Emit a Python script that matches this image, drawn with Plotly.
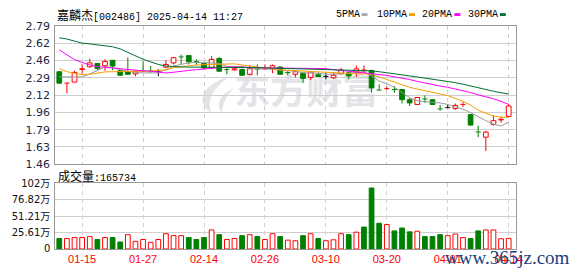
import plotly.graph_objects as go

W, H = 578, 276

# ---------------- data ----------------
dates = [
    "2025-01-10", "2025-01-13", "2025-01-14", "2025-01-15", "2025-01-16", "2025-01-17",
    "2025-01-20", "2025-01-21", "2025-01-22", "2025-01-23", "2025-01-24", "2025-01-27",
    "2025-02-05", "2025-02-06", "2025-02-07", "2025-02-10", "2025-02-11", "2025-02-12",
    "2025-02-13", "2025-02-14", "2025-02-17", "2025-02-18", "2025-02-19", "2025-02-20",
    "2025-02-21", "2025-02-24", "2025-02-25", "2025-02-26", "2025-02-27", "2025-02-28",
    "2025-03-03", "2025-03-04", "2025-03-05", "2025-03-06", "2025-03-07", "2025-03-10",
    "2025-03-11", "2025-03-12", "2025-03-13", "2025-03-14", "2025-03-17", "2025-03-18",
    "2025-03-19", "2025-03-20", "2025-03-21", "2025-03-24", "2025-03-25", "2025-03-26",
    "2025-03-27", "2025-03-28", "2025-03-31", "2025-04-01", "2025-04-02", "2025-04-03",
    "2025-04-07", "2025-04-08", "2025-04-09", "2025-04-10", "2025-04-11", "2025-04-14",
]
opens = [2.350, 2.238, 2.250, 2.372, 2.398, 2.430, 2.408, 2.460, 2.359, 2.347,
         2.329, 2.358, 2.358, 2.355, 2.395, 2.435, 2.495, 2.505, 2.446, 2.430,
         2.388, 2.478, 2.372, 2.368, 2.371, 2.325, 2.378, 2.376, 2.378, 2.395,
         2.345, 2.325, 2.335, 2.295, 2.320, 2.305, 2.292, 2.330, 2.340, 2.347,
         2.360, 2.362, 2.175, 2.185, 2.180, 2.178, 2.081, 2.035, 2.090, 2.081,
         1.994, 2.004, 1.995, 2.032, 1.937, 1.772, 1.720, 1.843, 1.886, 1.920]
highs = [2.355, 2.246, 2.360, 2.420, 2.475, 2.432, 2.470, 2.462, 2.365, 2.487,
         2.360, 2.450, 2.405, 2.374, 2.460, 2.490, 2.515, 2.506, 2.469, 2.435,
         2.500, 2.490, 2.393, 2.400, 2.380, 2.412, 2.420, 2.420, 2.420, 2.400,
         2.356, 2.360, 2.340, 2.356, 2.345, 2.340, 2.340, 2.386, 2.345, 2.410,
         2.410, 2.370, 2.228, 2.210, 2.210, 2.185, 2.096, 2.105, 2.123, 2.085,
         2.030, 2.035, 2.044, 2.056, 1.940, 1.830, 1.781, 1.928, 1.920, 2.040]
lows = [2.235, 2.142, 2.250, 2.330, 2.390, 2.365, 2.360, 2.365, 2.310, 2.322,
        2.307, 2.345, 2.340, 2.307, 2.384, 2.420, 2.420, 2.420, 2.414, 2.375,
        2.380, 2.350, 2.325, 2.360, 2.310, 2.320, 2.315, 2.370, 2.335, 2.320,
        2.316, 2.295, 2.243, 2.270, 2.300, 2.275, 2.280, 2.325, 2.276, 2.300,
        2.340, 2.148, 2.170, 2.173, 2.148, 2.044, 2.020, 2.030, 2.050, 2.030,
        1.974, 2.004, 1.983, 2.010, 1.834, 1.720, 1.586, 1.830, 1.860, 1.920]
closes = [2.240, 2.243, 2.343, 2.378, 2.435, 2.380, 2.448, 2.405, 2.316, 2.325,
          2.355, 2.355, 2.355, 2.355, 2.420, 2.485, 2.490, 2.445, 2.440, 2.385,
          2.469, 2.355, 2.368, 2.378, 2.316, 2.378, 2.374, 2.380, 2.408, 2.325,
          2.340, 2.350, 2.286, 2.347, 2.305, 2.305, 2.316, 2.365, 2.310, 2.377,
          2.366, 2.194, 2.172, 2.190, 2.176, 2.081, 2.050, 2.102, 2.086, 2.035,
          1.990, 2.004, 2.026, 2.038, 1.836, 1.768, 1.769, 1.879, 1.892, 2.020]
volumes = [163000, 163000, 178000, 178000, 193000, 148000, 178000, 178000, 109000, 223000,
           119000, 148000, 104000, 148000, 238000, 208000, 208000, 178000, 148000, 178000,
           297000, 223000, 148000, 163000, 208000, 223000, 193000, 148000, 238000, 193000,
           138000, 129000, 208000, 238000, 163000, 129000, 143000, 238000, 223000, 262000,
           341000, 950000, 401000, 381000, 282000, 326000, 267000, 277000, 193000, 193000,
           223000, 208000, 233000, 178000, 163000, 282000, 297000, 297000, 159000, 165734]
ma5 = [2.300, 2.300, 2.300, 2.300, 2.330, 2.360, 2.400, 2.390, 2.370, 2.355,
       2.343, 2.338, 2.338, 2.340, 2.370, 2.405, 2.420, 2.435, 2.440, 2.440,
       2.435, 2.430, 2.400, 2.400, 2.400, 2.385, 2.377, 2.377, 2.375, 2.365,
       2.362, 2.355, 2.340, 2.340, 2.335, 2.325, 2.325, 2.330, 2.335, 2.345,
       2.350, 2.310, 2.260, 2.235, 2.200, 2.150, 2.100, 2.070, 2.060, 2.055,
       2.050, 2.035, 2.010, 1.990, 1.955, 1.915, 1.880, 1.845, 1.827, 1.866]
ma10 = [2.380, 2.350, 2.335, 2.322, 2.325, 2.340, 2.348, 2.350, 2.350, 2.350,
        2.352, 2.355, 2.358, 2.362, 2.368, 2.389, 2.400, 2.410, 2.415, 2.418,
        2.420, 2.425, 2.426, 2.426, 2.415, 2.405, 2.395, 2.386, 2.378, 2.368,
        2.364, 2.360, 2.356, 2.350, 2.347, 2.343, 2.338, 2.334, 2.330, 2.330,
        2.330, 2.325, 2.300, 2.275, 2.250, 2.225, 2.200, 2.183, 2.165, 2.150,
        2.136, 2.120, 2.095, 2.065, 2.030, 1.980, 1.950, 1.925, 1.912, 1.910]
ma20 = [2.560, 2.515, 2.466, 2.440, 2.415, 2.400, 2.392, 2.385, 2.377, 2.370,
        2.360, 2.358, 2.356, 2.345, 2.338, 2.345, 2.350, 2.362, 2.370, 2.378,
        2.384, 2.390, 2.395, 2.396, 2.396, 2.394, 2.390, 2.387, 2.386, 2.386,
        2.386, 2.386, 2.385, 2.385, 2.384, 2.380, 2.370, 2.362, 2.358, 2.352,
        2.345, 2.335, 2.325, 2.315, 2.300, 2.290, 2.275, 2.257, 2.240, 2.228,
        2.212, 2.200, 2.185, 2.165, 2.150, 2.127, 2.110, 2.090, 2.065, 2.035]
ma30 = [2.677, 2.665, 2.645, 2.625, 2.618, 2.609, 2.600, 2.590, 2.570, 2.535,
        2.505, 2.470, 2.445, 2.420, 2.405, 2.397, 2.396, 2.395, 2.395, 2.395,
        2.395, 2.395, 2.395, 2.395, 2.395, 2.393, 2.390, 2.388, 2.385, 2.383,
        2.382, 2.380, 2.378, 2.375, 2.372, 2.368, 2.366, 2.364, 2.362, 2.360,
        2.360, 2.358, 2.350, 2.342, 2.332, 2.320, 2.310, 2.300, 2.290, 2.278,
        2.267, 2.255, 2.245, 2.230, 2.212, 2.197, 2.180, 2.162, 2.148, 2.135]

ma_names = ["5PMA", "10PMA", "20PMA", "30PMA"]
price_min, price_max = 1.46, 2.79
price_tick_vals = [1.46, 1.62625, 1.7925, 1.95875, 2.125, 2.29125, 2.4575, 2.62375, 2.79]
price_tick_text = ["1.46", "1.63", "1.79", "1.96", "2.12", "2.29", "2.46", "2.62", "2.79"]
vol_max = 1024300
vol_tick_vals = [0, 256075, 512150, 768225, 1024300]
vol_tick_text = ["0", "25.61万", "51.21万", "76.82万", "102万"]
date_tick_idx = [3, 11, 19, 27, 35, 43, 51, 59]
stock_name = "嘉麟杰"
stock_code = "[002486]"
timestamp = "2025-04-14 11:27"
vol_label = "成交量"

# ---------------- styles ----------------
RED = "#ff0000"
GREEN = "#008000"
BLACK = "#000000"
MA_COLORS = ["#999999", "#f5a000", "#ff00ff", "#006f35"]
LEGEND_COLORS = ["#aaaaaa", "#f5a000", "#ff00ff", "#007038"]
GRID = "#cfcfcf"
FRAME = "#999999"
MONO = "Liberation Mono"
CJK = "Noto Sans CJK SC"


def px(xp):
    return xp / W


def py(yp):
    return 1 - yp / H


n = len(dates)
xs = list(range(n))

fig = go.Figure()

# wicks and doji ticks
seg = {RED: ([], []), GREEN: ([], []), BLACK: ([], [])}
for i in xs:
    o, h, l, c = opens[i], highs[i], lows[i], closes[i]
    col = RED if c > o else (GREEN if c < o else BLACK)
    sx, sy = seg[col]
    top, bot = max(o, c), min(o, c)
    sx += [i, i, None, i, i, None]
    sy += [l, bot, None, top, h, None]
    if abs(c - o) < 0.006:
        m = (o + c) / 2
        sx += [i - 0.33, i + 0.33, None]
        sy += [m, m, None]
for col, (sx, sy) in seg.items():
    fig.add_trace(go.Scatter(x=sx, y=sy, mode="lines", line=dict(color=col, width=1),
                             hoverinfo="skip", xaxis="x", yaxis="y"))

# bodies
up_i = [i for i in xs if closes[i] - opens[i] >= 0.006]
dn_i = [i for i in xs if opens[i] - closes[i] >= 0.006]
fig.add_trace(go.Bar(x=up_i, base=[opens[i] for i in up_i],
                     y=[closes[i] - opens[i] for i in up_i], width=0.62,
                     marker=dict(color="white", line=dict(color=RED, width=1)),
                     xaxis="x", yaxis="y"))
fig.add_trace(go.Bar(x=dn_i, base=[closes[i] for i in dn_i],
                     y=[opens[i] - closes[i] for i in dn_i], width=0.62,
                     marker=dict(color=GREEN, line=dict(color=GREEN, width=1)),
                     xaxis="x", yaxis="y"))

# moving averages
for vals, col in zip([ma5, ma10, ma20, ma30], MA_COLORS):
    fig.add_trace(go.Scatter(x=xs, y=vals, mode="lines", line=dict(color=col, width=1),
                             hoverinfo="skip", xaxis="x", yaxis="y"))

# volume
vol_up = [(closes[0] >= opens[0]) if i == 0 else (closes[i] >= closes[i - 1]) for i in xs]
vu = [i for i in xs if vol_up[i]]
vd = [i for i in xs if not vol_up[i]]
fig.add_trace(go.Bar(x=vu, y=[volumes[i] for i in vu], width=0.62,
                     marker=dict(color="white", line=dict(color=RED, width=1)),
                     xaxis="x2", yaxis="y2"))
fig.add_trace(go.Bar(x=vd, y=[volumes[i] for i in vd], width=0.62,
                     marker=dict(color=GREEN, line=dict(color=GREEN, width=1)),
                     xaxis="x2", yaxis="y2"))

xdom = [px(56), px(522)]
xr = [-0.52, n - 1 + 0.92]
common_x = dict(domain=xdom, range=xr, tickmode="array", tickvals=date_tick_idx,
                showgrid=True, gridcolor=GRID, griddash="4px,4px", gridwidth=1,
                showline=True, mirror=True, linecolor=FRAME, linewidth=1,
                zeroline=False, ticks="", fixedrange=True)
fig.update_layout(
    width=W, height=H, margin=dict(l=0, r=0, t=0, b=0),
    paper_bgcolor="white", plot_bgcolor="white", showlegend=False,
    barmode="overlay",
    xaxis=dict(anchor="y", showticklabels=False, **common_x),
    xaxis2=dict(anchor="y2", matches="x", showticklabels=True,
                ticktext=[dates[i][5:] for i in date_tick_idx],
                tickfont=dict(family="Liberation Sans", size=11, color=RED), **common_x),
    yaxis=dict(domain=[py(166), py(21)], range=[price_min, price_max], tickmode="array",
               tickvals=price_tick_vals, ticktext=price_tick_text, showgrid=True,
               gridcolor=GRID, showline=True, mirror=True, linecolor=FRAME,
               zeroline=False, ticks="", ticklabelstandoff=2,
               tickfont=dict(family="DejaVu Sans", size=11, color="#1c2845")),
    yaxis2=dict(domain=[py(255), py(186)], range=[0, vol_max], tickmode="array",
                tickvals=vol_tick_vals, ticktext=vol_tick_text, showgrid=True,
                gridcolor=GRID, showline=True, mirror=True, linecolor=FRAME,
                zeroline=False, ticks="", ticklabelstandoff=2,
                tickfont=dict(family="DejaVu Sans, Noto Sans CJK SC", size=10, color="#111111")),
)

ann = []
# title
ann.append(dict(xref="paper", yref="paper", x=px(56), y=py(9), xanchor="left", yanchor="middle",
                showarrow=False,
                text=f'<span style="font-family:{CJK};font-size:12px">{stock_name}</span>{stock_code} {timestamp}',
                font=dict(family=MONO, size=10, color="#000000")))
# volume label
ann.append(dict(xref="paper", yref="paper", x=px(57), y=py(178), xanchor="left", yanchor="middle",
                showarrow=False,
                text=f'<span style="font-family:{CJK};font-size:12px">{vol_label}</span>:{volumes[-1]}',
                font=dict(family=MONO, size=10, color="#000000")))
# legend
leg_text_x = [338, 380, 425, 472]
leg_box_x = [366, 414, 460, 506]
shapes = []
for name, tx, bx, col in zip(ma_names, leg_text_x, leg_box_x, LEGEND_COLORS):
    ann.append(dict(xref="paper", yref="paper", x=px(tx), y=py(9), xanchor="left",
                    yanchor="middle", showarrow=False, text=name,
                    font=dict(family=MONO, size=10, color="#000000")))
    shapes.append(dict(type="rect", xref="paper", yref="paper", x0=px(bx), x1=px(bx + 6),
                       y0=py(10.5), y1=py(7.5), line=dict(width=0), fillcolor=col))
# site mark bottom-right
ann.append(dict(xref="paper", yref="paper", x=px(514), y=py(264), xanchor="center",
                yanchor="middle", showarrow=False, text="www.365jz.com",
                font=dict(family="Liberation Serif", size=19, color="#1b3d7a")))

# faint watermark behind the chart
WM = "#e4e4e8"
shapes.append(dict(type="rect", xref="paper", yref="paper", x0=px(238), x1=px(382),
                   y0=py(112), y1=py(72), line=dict(width=0), fillcolor="rgba(0,0,0,0)",
                   layer="below",
                   label=dict(text="<b>东方财富</b>", textposition="middle center",
                              font=dict(family=CJK, size=36, color=WM))))


def path(points):
    out = []
    for cmd, pts in points:
        coords = " ".join(f"{px(a):.5f},{py(b):.5f}" for a, b in pts)
        out.append(f"{cmd} {coords}")
    return " ".join(out) + " Z"


shapes.append(dict(type="path", xref="paper", yref="paper", layer="below",
                   line=dict(width=0), fillcolor=WM,
                   path=path([("M", [(232, 74)]), ("C", [(206, 82), (196, 100), (214, 112)]),
                              ("C", [(209, 99), (215, 87), (232, 74)])])))
shapes.append(dict(type="path", xref="paper", yref="paper", layer="below",
                   line=dict(width=0), fillcolor=WM,
                   path=path([("M", [(237, 86)]), ("C", [(222, 93), (218, 104), (225, 112)]),
                              ("C", [(225, 103), (229, 94), (237, 86)])])))

fig.update_layout(annotations=ann, shapes=shapes)
fig.write_html("out.html")
